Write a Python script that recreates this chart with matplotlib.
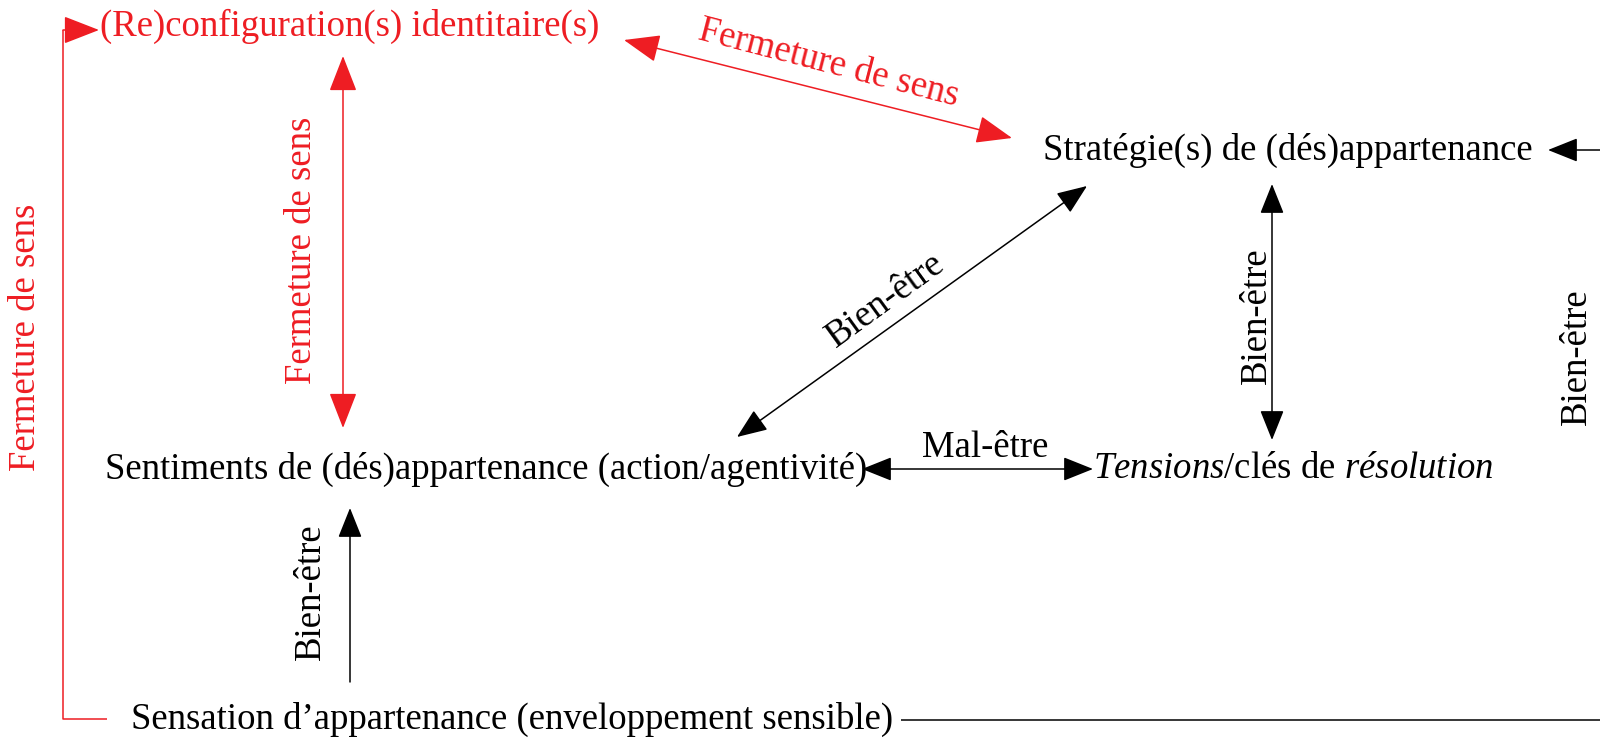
import matplotlib.pyplot as plt
from matplotlib.patches import FancyArrowPatch

plt.rcParams['font.family'] = ['Liberation Serif', 'DejaVu Serif']
plt.rcParams['mathtext.fontset'] = 'custom'
plt.rcParams['mathtext.rm'] = 'Liberation Serif'
plt.rcParams['mathtext.it'] = 'Liberation Serif:italic'

RED = '#ee1d23'
BLACK = '#000000'

# node labels
node_labels = [
    "(Re)configuration(s) identitaire(s)",
    "Stratégie(s) de (dés)appartenance",
    "Sentiments de (dés)appartenance (action/agentivité)",
    r"$\it{Tensions}$/clés de $\it{résolution}$",
    "Sensation d\u2019appartenance (enveloppement sensible)",
]
node_x = [100, 1043, 105, 1093, 131]
node_y = [26, 150, 469, 469, 719]
node_colors = [RED, BLACK, BLACK, BLACK, BLACK]

# link labels
link_labels = ["Fermeture de sens", "Fermeture de sens", "Fermeture de sens",
               "Bien-être", "Bien-être", "Mal-être", "Bien-être", "Bien-être"]
link_x = [829, 302, 26, 886, 1257, 985, 311, 1577]
link_y = [64, 250, 337, 300, 316, 448, 592, 357]
link_rot = [-14.5, 90, 90, 36, 90, 0, 90, 90]
link_colors = [RED, RED, RED, BLACK, BLACK, BLACK, BLACK, BLACK]

# arrows: start, end, style, color
arrows = [
    ((624, 40), (1012, 138), '<|-|>', RED),
    ((343, 56), (343, 428), '<|-|>', RED),
    ((1087, 186), (737, 437), '<|-|>', BLACK),
    ((1272, 184), (1272, 440), '<|-|>', BLACK),
    ((862, 469), (1093, 469), '<|-|>', BLACK),
    ((350, 682), (350, 508), '-|>', BLACK),
    ((1600, 150), (1548, 150), '-|>', BLACK),
    ((63, 30), (99, 30), '-|>', RED),
]

# plain connector lines
lines = [
    ([63, 63, 107], [30, 719, 719], RED),
    ([901, 1600], [720, 720], BLACK),
]

fig = plt.figure(figsize=(16, 7.4), dpi=100)
ax = fig.add_axes([0, 0, 1, 1])
ax.set_xlim(0, 1600)
ax.set_ylim(740, 0)
ax.axis('off')

for xs, ys, c in lines:
    ax.plot(xs, ys, color=c, lw=1.1, solid_capstyle='butt')

for (p0, p1, style, c) in arrows:
    hs = "head_length=0.9,head_width=0.35" if c == RED else "head_length=0.75,head_width=0.3"
    a = FancyArrowPatch(p0, p1, arrowstyle=style + "," + hs, mutation_scale=25,
                        color=c, lw=1.1, shrinkA=0, shrinkB=0)
    ax.add_patch(a)

for lab, x, y, c in zip(node_labels, node_x, node_y, node_colors):
    ax.text(x, y, lab, color=c, fontsize=26.5, ha='left', va='center')

for lab, x, y, r, c in zip(link_labels, link_x, link_y, link_rot, link_colors):
    ax.text(x, y, lab, color=c, fontsize=26.5, ha='center', va='center',
            rotation=r, rotation_mode='anchor')

fig.savefig("out.png", dpi=100)
